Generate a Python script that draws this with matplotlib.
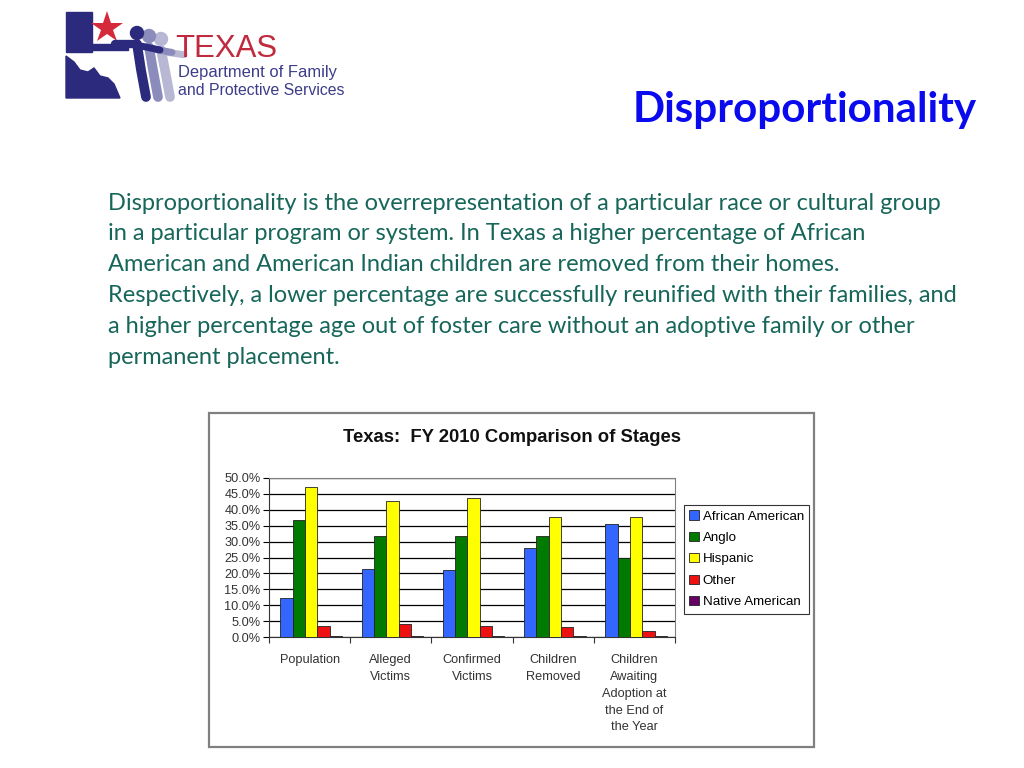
import matplotlib.pyplot as plt
import matplotlib.patches as patches
import numpy as np

# Chart data (percent of children at each stage, FY 2010)
stages = ["Population", "Alleged\nVictims", "Confirmed\nVictims", "Children\nRemoved",
          "Children\nAwaiting\nAdoption at\nthe End of\nthe Year"]
groups = ["African American", "Anglo", "Hispanic", "Other", "Native American"]
african_american = [12.2, 21.4, 21.1, 27.9, 35.4]
anglo = [36.8, 31.7, 31.7, 31.7, 25.0]
hispanic = [47.2, 42.8, 43.6, 37.7, 37.7]
other = [3.5, 4.1, 3.6, 3.0, 1.8]
native_american = [0.3, 0.3, 0.3, 0.3, 0.3]
bar_colors = ["#3366ff", "#007a00", "#ffff00", "#ee1111", "#660066"]

paragraph = [
    "Disproportionality is the overrepresentation of a particular race or cultural group",
    "in a particular program or system. In Texas a higher percentage of African",
    "American and American Indian children are removed from their homes.",
    "Respectively, a lower percentage are successfully reunified with their families, and",
    "a higher percentage age out of foster care without an adoptive family or other",
    "permanent placement.",
]

W, H = 1024, 768
fig = plt.figure(figsize=(W / 100, H / 100), dpi=100)
renderer = fig.canvas.get_renderer()

# background axes in pixel coordinates for the slide decorations
bg = fig.add_axes([0, 0, 1, 1])
bg.set_xlim(0, W)
bg.set_ylim(H, 0)
bg.axis("off")


def fit_text(x, y, s, width_px, size=20, **kw):
    # scale the font so the text spans about width_px pixels
    t = bg.text(x, y, s, fontsize=size, **kw)
    w = t.get_window_extent(renderer).width
    t.set_fontsize(size * width_px / w)
    return t


# --- logo ---
navy = "#2b2a7d"
bg.add_patch(patches.Rectangle((66, 12), 26, 40, color=navy))
bg.add_patch(patches.Polygon([(66, 56), (74, 62), (80, 70), (88, 72), (94, 68), (100, 76),
                              (108, 78), (114, 84), (120, 98), (66, 98)], color=navy))
bg.add_patch(patches.Polygon([(92, 44), (128, 44), (128, 50), (92, 50)], color=navy))
bg.plot([107], [28], marker="*", markersize=24, color="#d42a3c", markeredgewidth=0)
for dx, col in [(24, "#b8b8d4"), (12, "#8c8cbc"), (0, navy)]:
    bg.add_patch(patches.Circle((137 + dx, 33 + dx * 0.25), 6.5, color=col))
    bg.plot([137 + dx, 141 + dx, 146 + dx], [44 + dx * 0.25, 70, 97], color=col,
            lw=7, solid_capstyle="round")
    bg.plot([141 + dx, 160 + dx], [46 + dx * 0.25, 50 + dx * 0.2], color=col,
            lw=5, solid_capstyle="round")
bg.plot([115, 137], [44, 44], color=navy, lw=6, solid_capstyle="round")
fit_text(175, 57, "TEXAS", 102, family="Liberation Sans", color="#c02a3e", va="baseline")
fit_text(178, 77, "Department of Family", 158, family="Liberation Sans",
         color="#3c3c8a", va="baseline")
fit_text(178, 95, "and Protective Services", 166, family="Liberation Sans",
         color="#3c3c8a", va="baseline")

# --- slide title and paragraph ---
fit_text(633, 110, "Disproportionality", 344, family="Lato", weight="bold",
         color="#0a0aee", va="center")
t0 = fit_text(108, 203, paragraph[0], 837, family="Lato", color="#17665a", va="center")
for i, line in enumerate(paragraph[1:], start=1):
    bg.text(108, 203 + i * 30.8, line, fontsize=t0.get_fontsize(), family="Lato",
            color="#17665a", va="center")

# --- chart frame ---
bg.add_patch(patches.Rectangle((209, 413), 605, 334, fill=False, edgecolor="#808080", lw=1.6))
fit_text(512, 437, "Texas:  FY 2010 Comparison of Stages", 338, family="Liberation Sans",
         weight="bold", color="#111111", ha="center", va="center")

# --- bar chart ---
ax = fig.add_axes([269 / W, 1 - 637 / H, 406 / W, 159 / H])
x = np.arange(len(stages))
width = 0.152
series = [african_american, anglo, hispanic, other, native_american]
for i, (name, vals) in enumerate(zip(groups, series)):
    ax.bar(x + (i - 2) * width + 0.02, vals, width, color=bar_colors[i], edgecolor="#222222",
           linewidth=0.6, label=name, zorder=3)

ax.set_xlim(-0.5, len(stages) - 0.5)
ax.set_ylim(0, 50)
ax.set_yticks(np.arange(0, 50.1, 5))
ax.set_yticklabels([f"{v:.1f}%" for v in np.arange(0, 50.1, 5)])
ax.yaxis.grid(True, color="black", lw=0.9, zorder=0)
ax.set_xticks(x)
ax.set_xticklabels(stages, linespacing=1.55, va="top")
ax.set_xticks(np.arange(-0.5, len(stages)), minor=True)
ax.tick_params(axis="x", which="major", length=0, pad=12, labelsize=9.2, labelcolor="#333333")
ax.tick_params(axis="x", which="minor", length=4, width=0.8, color="#333333")
ax.tick_params(axis="y", length=4, width=0.8, labelsize=9.2, labelcolor="#333333", pad=2)
for lab in ax.get_xticklabels() + ax.get_yticklabels():
    lab.set_family("Liberation Sans")
for side in ["top", "right"]:
    ax.spines[side].set_color("#808080")
for side in ["left", "bottom"]:
    ax.spines[side].set_color("#333333")

leg = fig.legend(loc="upper left", bbox_to_anchor=(684 / W, 1 - 505 / H),
                 prop={"family": "Liberation Sans", "size": 9.6}, frameon=True,
                 fancybox=False, edgecolor="black", handlelength=0.7, handleheight=0.7,
                 handletextpad=0.3, labelspacing=0.68, borderpad=0.4, borderaxespad=0)
leg.get_frame().set_linewidth(0.8)

fig.savefig("out.png", dpi=100)
